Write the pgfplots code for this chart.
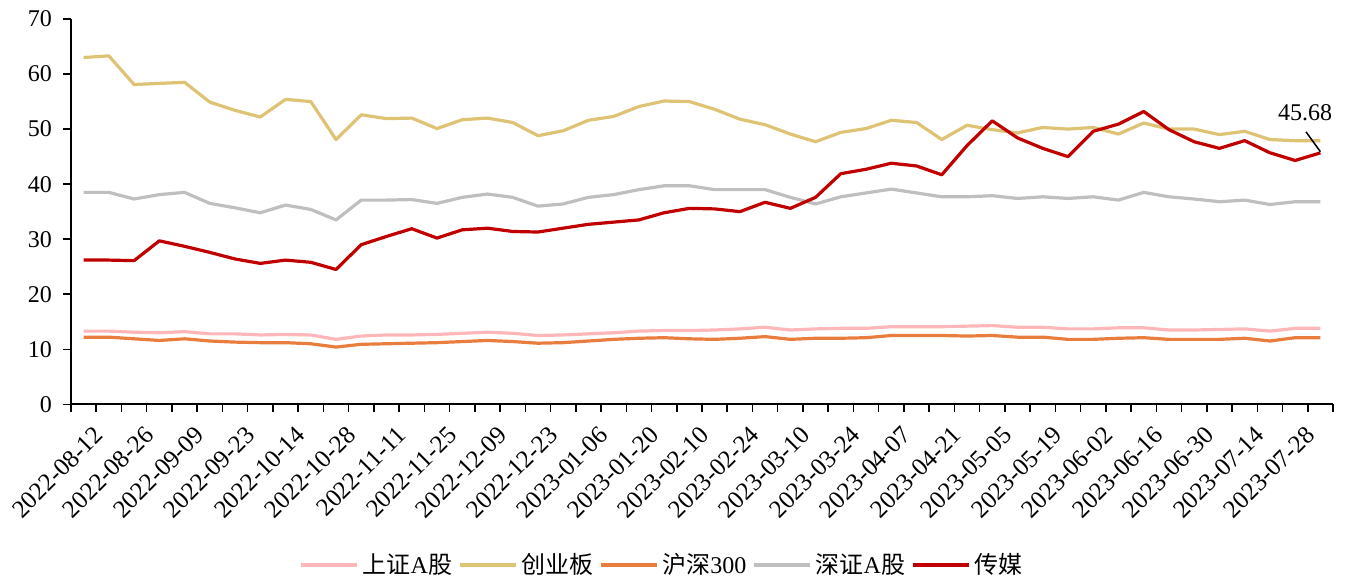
\documentclass[border=0pt]{standalone}
\usepackage{fontspec}
\setmainfont{Liberation Serif}
\newfontfamily\cjk{Noto Sans CJK SC}
\usepackage{pgfplots}
\pgfplotsset{compat=1.18}
\usepackage{pgfplotstable}
\definecolor{cPink}{RGB}{255,183,185}
\definecolor{cGold}{RGB}{222,195,117}
\definecolor{cOrange}{RGB}{233,125,62}
\definecolor{cGrey}{RGB}{191,191,191}
\definecolor{cRed}{RGB}{192,0,0}
\pgfplotstableread{
idx sz cyb hs szA cm
0 13.3 63.0 12.2 38.5 26.2
1 13.3 63.3 12.2 38.5 26.2
2 13.1 58.1 11.9 37.3 26.1
3 13.0 58.3 11.6 38.1 29.7
4 13.2 58.5 11.9 38.5 28.7
5 12.8 54.9 11.5 36.5 27.6
6 12.8 53.4 11.3 35.7 26.4
7 12.6 52.2 11.2 34.8 25.6
8 12.7 55.4 11.2 36.2 26.2
9 12.6 55.0 11.0 35.4 25.8
10 11.8 48.1 10.4 33.5 24.5
11 12.4 52.6 10.9 37.1 29.0
12 12.6 51.9 11.0 37.1 30.5
13 12.6 52.0 11.1 37.2 31.9
14 12.7 50.1 11.2 36.5 30.2
15 12.9 51.7 11.4 37.6 31.7
16 13.1 52.0 11.6 38.2 32.0
17 12.9 51.2 11.4 37.6 31.4
18 12.5 48.8 11.1 36.0 31.3
19 12.6 49.7 11.2 36.4 32.0
20 12.8 51.6 11.5 37.6 32.7
21 13.0 52.3 11.8 38.1 33.1
22 13.3 54.1 12.0 39.0 33.5
23 13.4 55.1 12.1 39.7 34.8
24 13.4 55.0 11.9 39.7 35.6
25 13.5 53.6 11.8 39.0 35.5
26 13.7 51.8 12.0 39.0 35.0
27 14.0 50.8 12.3 39.0 36.7
28 13.5 49.1 11.8 37.6 35.6
29 13.7 47.7 12.0 36.4 37.6
30 13.8 49.4 12.0 37.7 41.9
31 13.8 50.1 12.1 38.4 42.7
32 14.1 51.6 12.5 39.1 43.8
33 14.1 51.2 12.5 38.4 43.3
34 14.1 48.1 12.5 37.7 41.7
35 14.2 50.7 12.4 37.7 47.0
36 14.3 49.9 12.5 37.9 51.5
37 14.0 49.3 12.2 37.4 48.4
38 14.0 50.3 12.2 37.7 46.5
39 13.7 50.0 11.8 37.4 45.0
40 13.7 50.3 11.8 37.7 49.6
41 13.9 49.1 12.0 37.1 50.9
42 13.9 51.1 12.1 38.5 53.2
43 13.5 50.0 11.8 37.7 49.9
44 13.5 50.0 11.8 37.3 47.7
45 13.6 49.0 11.8 36.8 46.5
46 13.7 49.6 12.0 37.1 47.9
47 13.3 48.1 11.5 36.3 45.7
48 13.8 47.9 12.1 36.8 44.3
49 13.8 47.9 12.1 36.8 45.68
}\datatable
\begin{document}
\begin{tikzpicture}
\begin{axis}[
  at={(0,0)}, anchor=south west,
  scale only axis, width=631pt, height=192.65pt,
  xmin=-0.5, xmax=49.5, ymin=0, ymax=70,
  axis lines*=left,
  axis line style={line width=1pt, black},
  tick align=outside,
  major tick length=4pt,
  tick style={line width=0.75pt, black},
  ytick={0,10,...,70},
  xtick={-0.5,0.5,...,49.5},
  xticklabels={},
  extra x ticks={0,2,...,48},
  extra x tick labels={2022-08-12,2022-08-26,2022-09-09,2022-09-23,2022-10-14,2022-10-28,2022-11-11,2022-11-25,2022-12-09,2022-12-23,2023-01-06,2023-01-20,2023-02-10,2023-02-24,2023-03-10,2023-03-24,2023-04-07,2023-04-21,2023-05-05,2023-05-19,2023-06-02,2023-06-16,2023-06-30,2023-07-14,2023-07-28},
  extra x tick style={major tick length=0pt},
  xticklabel style={xshift=4.6pt, yshift=-10pt, rotate=45, anchor=north east, inner sep=0pt, font=\fontsize{12.5}{14}\selectfont},
  yticklabel style={xshift=-2pt, font=\fontsize{12}{14}\selectfont},
  /pgf/number format/assume math mode=true,
  legend style={at={(0.469,-0.417)}, anchor=center, legend columns=-1, draw=none, font=\fontsize{12}{14}\selectfont,
    /tikz/every even column/.append style={column sep=1pt}},
  legend image code/.code={\draw[#1] (0pt,0pt) -- (28pt,0pt);},
  every axis plot/.append style={line width=1.6pt, line join=round, no markers},
]
\addplot[cPink] table[x=idx,y=sz] {\datatable};
\addlegendentry{{\cjk 上证}A{\cjk 股}}
\addplot[cGold] table[x=idx,y=cyb] {\datatable};
\addlegendentry{{\cjk 创业板}}
\addplot[cOrange] table[x=idx,y=hs] {\datatable};
\addlegendentry{{\cjk 沪深}300}
\addplot[cGrey] table[x=idx,y=szA] {\datatable};
\addlegendentry{{\cjk 深证}A{\cjk 股}}
\addplot[cRed] table[x=idx,y=cm] {\datatable};
\addlegendentry{{\cjk 传媒}}
\node[font=\fontsize{12}{14}\selectfont] at (axis cs:48.4,53.0) {45.68};
\draw[line width=0.75pt, black] (axis cs:48.43,49.5) -- (axis cs:49,45.9);
\end{axis}
\pgfresetboundingbox
\path (-35.5pt,-87.35pt) rectangle (638.5pt,202.15pt);
\end{tikzpicture}
\end{document}
